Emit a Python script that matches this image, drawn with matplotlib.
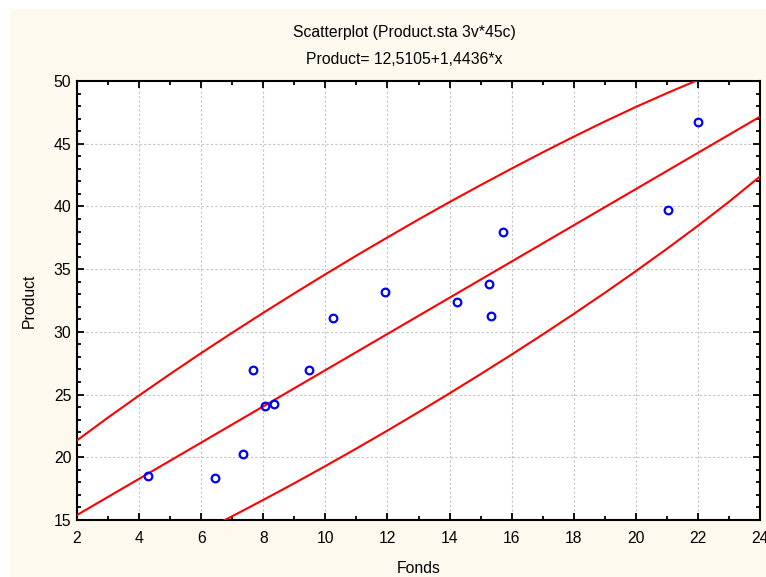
import matplotlib
matplotlib.use("Agg")
import matplotlib.pyplot as plt
from matplotlib.patches import Rectangle
from matplotlib.ticker import MultipleLocator
import numpy as np

plt.rcParams['font.family'] = ['Liberation Sans', 'DejaVu Sans']

# ---- data ----
fonds = [4.28, 6.46, 7.36, 7.68, 8.07, 8.33, 9.48, 10.25, 11.92, 14.23,
         15.26, 15.33, 15.71, 21.04, 22.00]
product = [18.50, 18.34, 20.26, 26.95, 24.08, 24.24, 26.95, 31.10, 33.17, 32.40,
           33.80, 31.26, 37.96, 39.71, 46.73]

intercept = 12.5105
slope = 1.4436

band_x = [2, 3, 4, 5, 6, 7, 8, 9, 10, 11, 12, 13,
          14, 15, 16, 17, 18, 19, 20, 21, 22, 23, 24]
band_upper = [21.35, 23.17, 24.93, 26.64, 28.31, 29.93, 31.52, 33.07, 34.59, 36.08, 37.53, 38.96,
              40.35, 41.70, 43.02, 44.31, 45.56, 46.77, 47.93, 49.03, 50.08, 51.05, 51.92]
band_lower = [9.44, 10.51, 11.64, 12.82, 14.04, 15.30, 16.60, 17.93, 19.30, 20.70, 22.13, 23.60,
              25.10, 26.63, 28.19, 29.79, 31.43, 33.11, 34.84, 36.62, 38.46, 40.37, 42.39]

title1 = "Scatterplot (Product.sta 3v*45c)"
title2 = "Product= 12,5105+1,4436*x"
xlabel = "Fonds"
ylabel = "Product"

FS = 11.3

# ---- figure ----
W, H = 766, 577
fig = plt.figure(figsize=(W / 100, H / 100), dpi=100)
fig.patch.set_facecolor('white')
fig.patches.append(Rectangle((10 / W, 0), 1 - 10 / W, 1 - 9 / H,
                             transform=fig.transFigure, facecolor='#fdf9ef',
                             edgecolor='none', zorder=-10))

ax = fig.add_axes([77 / W, 1 - 520 / H, 683 / W, 439 / H])
ax.set_facecolor('white')

xr = np.array([2, 24])
ax.plot(xr, intercept + slope * xr, color='#ff0000', lw=1.5, zorder=3)
ax.plot(band_x, band_upper, color='#ff0000', lw=1.5, zorder=3)
ax.plot(band_x, band_lower, color='#ff0000', lw=1.5, zorder=3)

ax.plot(fonds, product, linestyle='none', marker='o', markersize=5.5,
        markerfacecolor='none', markeredgecolor='#0000ff', markeredgewidth=1.6,
        zorder=4, clip_on=False)

ax.set_xlim(2, 24)
ax.set_ylim(15, 50)
ax.xaxis.set_major_locator(MultipleLocator(2))
ax.xaxis.set_minor_locator(MultipleLocator(1))
ax.yaxis.set_major_locator(MultipleLocator(5))
ax.yaxis.set_minor_locator(MultipleLocator(1))

ax.set_axisbelow(True)
ax.grid(True, which='major', color='#c4c4c4', linestyle=(0, (2, 2)), linewidth=0.8)

for s in ax.spines.values():
    s.set_linewidth(1.5)
    s.set_color('black')

ax.tick_params(which='both', direction='in', top=True, right=True,
               width=1.3, colors='black', labelsize=FS)
ax.tick_params(which='major', length=5)
ax.tick_params(which='minor', length=3)
ax.tick_params(axis='x', which='major', pad=8)
ax.tick_params(axis='y', which='major', pad=4)

ax.set_xlabel(xlabel, fontsize=FS, labelpad=11)
ax.set_ylabel(ylabel, fontsize=FS, labelpad=12)

fig.text(404 / W, 1 - 33 / H, title1, ha='center', va='center', fontsize=FS)
fig.text(404 / W, 1 - 59 / H, title2, ha='center', va='center', fontsize=FS)

fig.savefig('out.png', dpi=100, facecolor=fig.get_facecolor())
